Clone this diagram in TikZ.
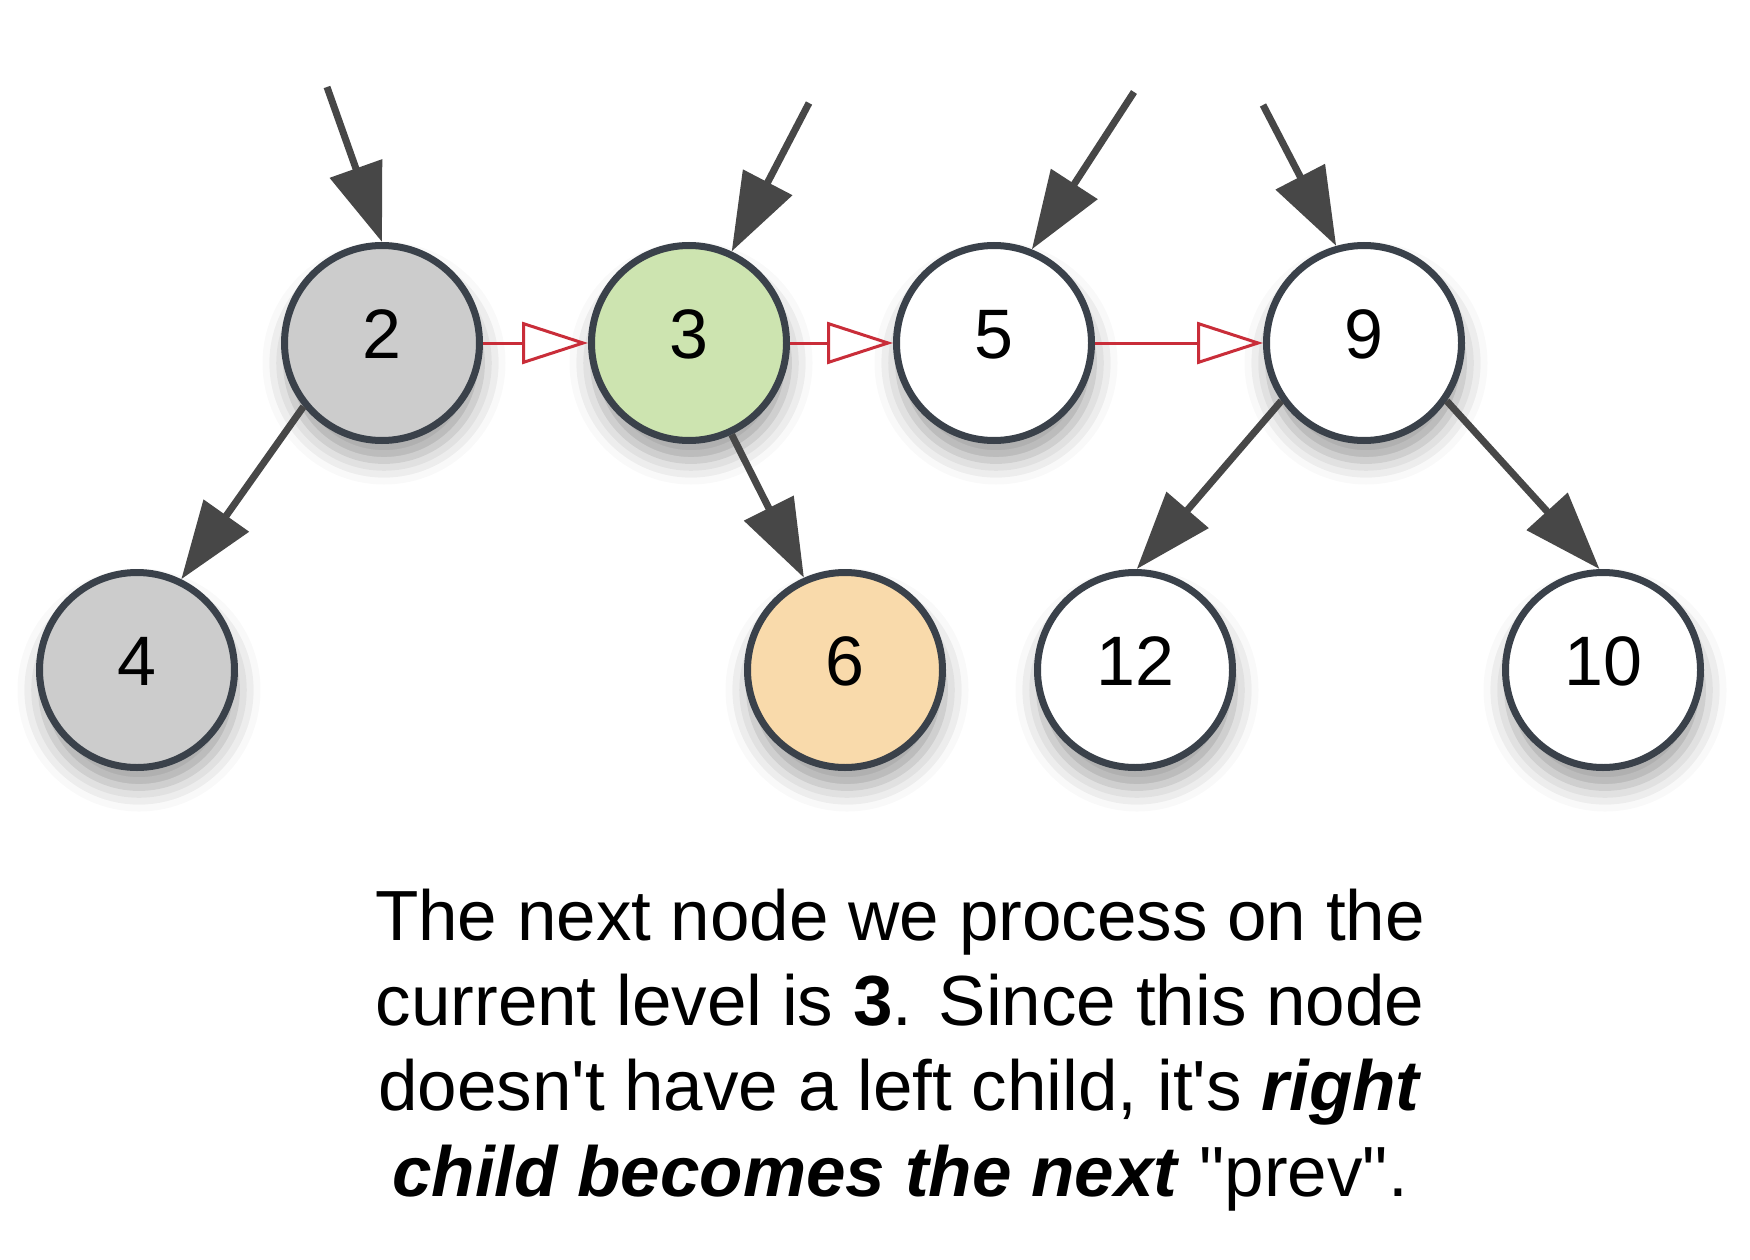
\documentclass[tikz,border=0pt]{standalone}
\usepackage{fontspec}
\setmainfont{Liberation Sans}
\usetikzlibrary{arrows.meta,shadows.blur}
\definecolor{nodeline}{HTML}{3A414A}
\definecolor{arrowgray}{HTML}{474747}
\definecolor{linkred}{HTML}{C92D39}
\definecolor{fillgray}{HTML}{CCCCCC}
\definecolor{fillgreen}{HTML}{CDE4B0}
\definecolor{fillorange}{HTML}{F9DAAB}
\begin{document}
\begin{tikzpicture}[x=1pt,y=-1pt,
  treenode/.style={circle, draw=nodeline, fill=white, line width=7pt, minimum size=195pt, inner sep=0pt,
    font=\fontsize{70}{84}\selectfont, text height=51pt, text depth=20pt,
    blur shadow={shadow xshift=2pt, shadow yshift=-20pt, shadow blur radius=24pt, shadow opacity=38}},
  childlink/.style={draw=arrowgray, line width=7pt, -{Triangle[length=78pt,width=54pt]}},
  nextlink/.style={draw=linkred, line width=3pt, -{Triangle[open,length=66pt,width=42pt]}},
]
\useasboundingbox (0,0) rectangle (1750,1260);

\node[treenode, fill=fillgray]   (n2)  at (382,343)  {2};
\node[treenode, fill=fillgreen]  (n3)  at (689,343)  {3};
\node[treenode]                  (n5)  at (994,343)  {5};
\node[treenode]                  (n9)  at (1364,343) {9};
\node[treenode, fill=fillgray]   (n4)  at (137,670)  {4};
\node[treenode, fill=fillorange] (n6)  at (845,670)  {6};
\node[treenode]                  (n12) at (1135,670) {12};
\node[treenode]                  (n10) at (1603,670) {10};

\coordinate (s2) at (327,87);
\coordinate (s3) at (809,103);
\coordinate (s5) at (1134,92);
\coordinate (s9) at (1263,105);

\draw[childlink] (s2) -- (n2.90);
\draw[childlink] (s3) -- (n3.65);
\draw[childlink] (s5) -- (n5.68);
\draw[childlink] (s9) -- (n9.106);
\draw[childlink] (n2.219) -- (n4.64);
\draw[childlink] (n3.295) -- (n6.114);
\draw[childlink] (n9.215) -- (n12.89);
\draw[childlink] (n9.325) -- (n10.92);

\draw[nextlink] (n2) -- (n3);
\draw[nextlink] (n3) -- (n5);
\draw[nextlink] (n5) -- (n9);

\node[font=\fontsize{71}{85.3}\selectfont, align=center, anchor=base] (caption) at (900,1196)
  {The next node we process on the\\
   current level is \textbf{3}. Since this node\\
   doesn\textquotesingle t have a left child, it\textquotesingle s \textbf{\textit{right}}\\
   \textbf{\textit{child becomes the next}} \textquotedbl prev\textquotedbl .};
\end{tikzpicture}
\end{document}
